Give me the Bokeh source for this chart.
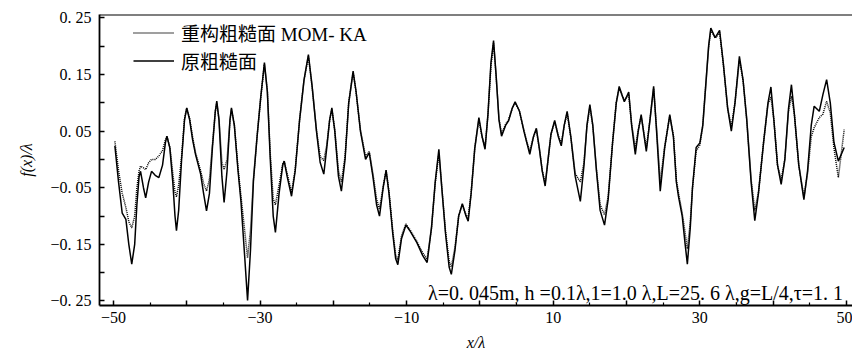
from bokeh.plotting import figure
from bokeh.models import FixedTicker, Span, Label
from bokeh.embed import file_html
from bokeh.resources import INLINE

# x / lambda positions
x_vals = [-49.8, -49.3, -48.8, -48.3, -47.9, -47.5, -47.1, -46.8, -46.5, -46.3,
          -45.9, -45.6, -45.2, -44.8, -44.3, -43.8, -43.3, -42.9, -42.7, -42.3,
          -41.9, -41.6, -41.4, -41.1, -40.7, -40.3, -40.0, -39.6, -39.2, -38.8,
          -38.1, -37.7, -37.3, -36.9, -36.5, -36.1, -35.9, -35.6, -35.2, -34.9,
          -34.5, -34.1, -33.9, -33.5, -33.0, -32.6, -32.1, -31.7, -31.3, -30.9,
          -30.4, -29.9, -29.4, -29.0, -28.6, -28.2, -27.9, -27.4, -26.9, -26.7,
          -26.3, -25.7, -25.2, -24.6, -24.0, -23.4, -22.9, -22.3, -21.8, -21.3,
          -20.9, -20.5, -20.2, -19.8, -19.3, -18.9, -18.4, -17.9, -17.3, -16.9,
          -16.3, -15.6, -15.1, -14.6, -14.1, -13.7, -13.2, -12.8, -12.4, -11.9,
          -11.5, -11.2, -10.7, -10.1, -9.5, -8.6, -7.8, -7.2, -6.6, -6.1,
          -5.6, -5.2, -4.7, -4.2, -3.9, -3.4, -2.9, -2.4, -1.9, -1.6,
          -1.2, -0.7, -0.14, 0.3, 0.7, 1.1, 1.5, 1.86, 2.2, 2.6,
          2.95, 3.5, 3.9, 4.4, 4.8, 5.4, 6.0, 6.4, 6.8, 7.3,
          7.7, 8.1, 8.5, 8.9, 9.3, 9.7, 10.2, 10.7, 11.1, 11.5,
          11.9, 12.4, 13.0, 13.7, 14.2, 14.6, 15.0, 15.4, 15.9, 16.4,
          17.0, 17.5, 18.1, 18.6, 19.0, 19.7, 20.3, 20.7, 21.2, 21.6,
          22.0, 22.7, 23.2, 23.7, 24.1, 24.6, 25.2, 25.9, 26.4, 26.8,
          27.1, 27.6, 28.0, 28.3, 28.7, 29.0, 29.5, 30.0, 30.4, 30.8,
          31.2, 31.5, 32.1, 32.7, 33.2, 33.8, 34.3, 34.8, 35.4, 35.9,
          36.4, 37.0, 37.5, 38.0, 38.7, 39.3, 39.7, 40.1, 40.6, 41.1,
          41.6, 42.1, 42.5, 42.9, 43.5, 44.2, 44.7, 45.2, 45.6, 46.3,
          46.8, 47.3, 47.8, 48.3, 48.9, 49.7]

# original rough surface f(x)/lambda
orig_vals = [0.024, -0.04, -0.095, -0.106, -0.15, -0.185, -0.15, -0.08, -0.03, -0.021,
             -0.05, -0.068, -0.04, -0.021, -0.028, -0.032, -0.01, 0.03, 0.041, 0.02,
             -0.04, -0.1, -0.126, -0.09, 0.0, 0.07, 0.091, 0.07, 0.035, 0.009,
             -0.026, -0.06, -0.091, -0.06, 0.02, 0.085, 0.103, 0.07, -0.03, -0.076,
             -0.02, 0.07, 0.091, 0.06, -0.02, -0.074, -0.17, -0.249, -0.16, -0.038,
             0.04, 0.11, 0.171, 0.12, 0.0, -0.1, -0.129, -0.06, -0.01, -0.003,
             -0.03, -0.065, -0.02, 0.07, 0.14, 0.185, 0.13, 0.05, -0.005, -0.026,
             0.02, 0.07, 0.091, 0.05, -0.03, -0.056, 0.0, 0.1, 0.156, 0.12,
             0.05, 0.0, 0.012, -0.03, -0.08, -0.1, -0.05, -0.019, -0.06, -0.13,
             -0.175, -0.186, -0.14, -0.116, -0.127, -0.147, -0.17, -0.182, -0.12, -0.04,
             0.018, -0.05, -0.13, -0.19, -0.203, -0.16, -0.1, -0.078, -0.1, -0.109,
             -0.06, 0.02, 0.074, 0.04, 0.018, 0.08, 0.17, 0.21, 0.15, 0.07,
             0.041, 0.06, 0.068, 0.09, 0.102, 0.085, 0.05, 0.03, 0.009, 0.04,
             0.055, 0.02, -0.02, -0.047, 0.0, 0.045, 0.069, 0.04, 0.024, 0.06,
             0.085, 0.04, -0.03, -0.074, -0.01, 0.06, 0.097, 0.06, -0.02, -0.09,
             -0.116, -0.07, 0.03, 0.1, 0.129, 0.102, 0.119, 0.06, 0.009, 0.05,
             0.079, 0.014, 0.07, 0.129, 0.05, -0.056, 0.02, 0.079, 0.04, -0.04,
             -0.066, -0.1, -0.15, -0.185, -0.12, -0.05, 0.021, 0.029, 0.06, 0.13,
             0.2, 0.232, 0.215, 0.228, 0.17, 0.09, 0.05, 0.1, 0.182, 0.14,
             0.07, -0.04, -0.108, -0.06, 0.03, 0.1, 0.128, 0.07, -0.01, -0.044,
             0.0, 0.09, 0.132, 0.08, -0.01, -0.071, -0.02, 0.06, 0.094, 0.085,
             0.115, 0.141, 0.1, 0.03, -0.003, 0.021]

# reconstructed rough surface (MOM-KA)
recon_vals = [0.032, -0.02, -0.06, -0.085, -0.11, -0.121, -0.1, -0.05, -0.02, -0.012,
              -0.015, -0.018, -0.006, 0.0, 0.0, 0.006, 0.016, 0.035, 0.041, 0.022,
              -0.025, -0.058, -0.066, -0.045, 0.005, 0.072, 0.09, 0.072, 0.04, 0.012,
              -0.02, -0.042, -0.056, -0.035, 0.025, 0.085, 0.1, 0.072, -0.005, -0.018,
              0.0, 0.068, 0.088, 0.06, -0.015, -0.065, -0.125, -0.174, -0.125, -0.035,
              0.042, 0.11, 0.168, 0.12, 0.01, -0.07, -0.08, -0.045, -0.008, -0.003,
              -0.025, -0.058, -0.018, 0.07, 0.14, 0.182, 0.13, 0.052, 0.005, -0.002,
              0.025, 0.07, 0.088, 0.052, -0.02, -0.04, 0.005, 0.1, 0.153, 0.12,
              0.052, 0.005, 0.014, -0.025, -0.07, -0.088, -0.048, -0.02, -0.058, -0.125,
              -0.168, -0.178, -0.135, -0.114, -0.125, -0.145, -0.165, -0.176, -0.12, -0.042,
              0.01, -0.05, -0.125, -0.18, -0.19, -0.155, -0.1, -0.08, -0.098, -0.102,
              -0.06, 0.02, 0.07, 0.04, 0.022, 0.08, 0.165, 0.205, 0.15, 0.072,
              0.046, 0.062, 0.07, 0.09, 0.1, 0.085, 0.052, 0.03, 0.015, 0.04,
              0.052, 0.02, -0.02, -0.042, 0.0, 0.045, 0.066, 0.042, 0.028, 0.06,
              0.082, 0.04, -0.025, -0.04, -0.005, 0.058, 0.093, 0.06, -0.018, -0.08,
              -0.098, -0.065, 0.03, 0.1, 0.125, 0.104, 0.115, 0.062, 0.02, 0.052,
              0.076, 0.02, 0.07, 0.125, 0.055, -0.04, 0.022, 0.076, 0.042, -0.036,
              -0.06, -0.095, -0.13, -0.158, -0.11, -0.05, 0.015, 0.025, 0.058, 0.128,
              0.198, 0.228, 0.214, 0.224, 0.17, 0.09, 0.058, 0.1, 0.176, 0.14,
              0.072, -0.035, -0.09, -0.058, 0.03, 0.098, 0.11, 0.07, -0.01, -0.036,
              0.0, 0.085, 0.112, 0.08, -0.01, -0.066, -0.025, 0.04, 0.056, 0.074,
              0.08, 0.103, 0.082, 0.02, -0.032, 0.053]

x_ticks = [-50, -40, -30, -20, -10, 0, 10, 20, 30, 40, 50]
x_minor = [-45, -35, -25, -15, -5, 5, 15, 25, 35, 45]
x_labels = ["\u221250", "", "\u221230", "", "\u221210", "", "10", "", "30", "", "50"]
y_ticks = [-0.25, -0.2, -0.15, -0.1, -0.05, 0.0, 0.05, 0.1, 0.15, 0.2, 0.25]
y_labels = ["\u22120. 25", "", "\u22120. 15", "", "\u22120. 05", "", "0. 05", "", "0. 15", "", "0. 25"]

legend_recon = "重构粗糙面 MOM- KA"
legend_orig = "原粗糙面"
note = "λ=0. 045m, h =0.1λ,1=1.0 λ,L=25. 6 λ,g=L/4,τ=1. 1"

SERIF = "'Liberation Serif'"
MIXED = "'Liberation Serif', 'Noto Sans CJK SC'"

p = figure(width=852, height=356, x_range=(-51.9, 50.83), y_range=(-0.258, 0.256),
           output_backend="svg", toolbar_location=None,
           min_border_left=99, min_border_right=0, min_border_top=14, min_border_bottom=51)
p.xgrid.visible = False
p.ygrid.visible = False
p.outline_line_color = None
p.background_fill_color = "white"

p.line(x_vals, recon_vals, line_color="black", line_width=1.5, line_dash="1 1",
       legend_label=legend_recon)
p.line(x_vals, orig_vals, line_color="black", line_width=1.5, legend_label=legend_orig)

p.add_layout(Span(location=0.256, dimension="width", line_color="black", line_width=2))

xa = p.xaxis[0]
xa.ticker = FixedTicker(ticks=x_ticks, minor_ticks=x_minor)
xa.major_label_overrides = dict(zip(x_ticks, x_labels))
ya = p.yaxis[0]
ya.ticker = FixedTicker(ticks=y_ticks, minor_ticks=[])
ya.major_label_overrides = dict(zip(y_ticks, y_labels))

for ax in (xa, ya):
    ax.axis_line_color = "black"
    ax.axis_line_width = 1.8
    ax.major_tick_line_color = "black"
    ax.major_tick_line_width = 1.5
    ax.minor_tick_line_color = "black"
    ax.minor_tick_line_width = 1.2
    ax.major_tick_in = 5
    ax.major_tick_out = 0
    ax.minor_tick_in = 3
    ax.minor_tick_out = 0
    ax.major_label_text_font = SERIF
    ax.major_label_text_font_size = "16px"
    ax.major_label_text_color = "black"
    ax.axis_label_text_font = SERIF
    ax.axis_label_text_font_size = "16px"
    ax.axis_label_text_font_style = "italic"
    ax.axis_label_text_color = "black"

xa.axis_label = "x/λ"
xa.major_label_standoff = 6
xa.axis_label_standoff = 8
ya.axis_label = "f(x)/λ"
ya.major_label_standoff = 8
ya.axis_label_standoff = 12

lg = p.legend[0]
lg.location = (34, 231)
lg.background_fill_alpha = 0
lg.border_line_color = None
lg.padding = 0
lg.margin = 0
lg.spacing = 1
lg.glyph_width = 41
lg.glyph_height = 21
lg.label_height = 21
lg.label_standoff = 7
lg.label_text_font = MIXED
lg.label_text_font_size = "19px"
lg.label_text_color = "black"

p.add_layout(Label(x=49.55, y=-0.2365, text=note, text_align="right",
                   text_baseline="alphabetic", text_font=SERIF,
                   text_font_size="20px", text_color="black"))

open("out.html", "w").write(file_html(p, INLINE))
